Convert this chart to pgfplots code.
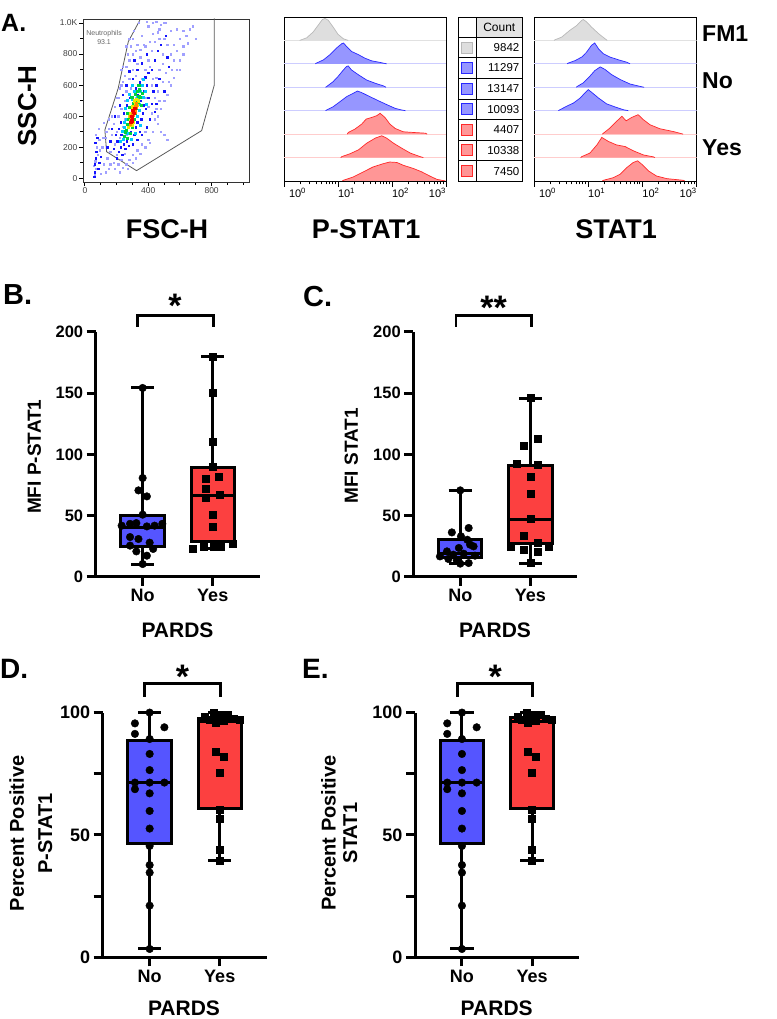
\documentclass[border=0pt]{standalone}
\usepackage{fontspec}
\setmainfont{Liberation Sans}
\usepackage{pgfplots}
\usepackage{pgfplotstable}
\pgfplotsset{compat=1.18}
\newcommand{\fs}[1]{\fontsize{#1}{#1}\selectfont}
\definecolor{bxblue}{RGB}{85,85,255}
\definecolor{bxred}{RGB}{252,64,64}
\definecolor{hblue}{RGB}{150,150,255}
\definecolor{hblueline}{RGB}{40,40,255}
\definecolor{hred}{RGB}{255,150,150}
\definecolor{hredline}{RGB}{255,40,40}
\definecolor{hgrey}{RGB}{222,222,222}
\definecolor{hgreyline}{RGB}{185,185,185}
\definecolor{bblue}{RGB}{205,205,255}
\definecolor{bred}{RGB}{255,205,205}
\definecolor{bgrey}{RGB}{225,225,225}
\definecolor{dlav}{RGB}{160,160,255}
\definecolor{dblue}{RGB}{20,20,255}
\definecolor{dcyan}{RGB}{0,200,255}
\definecolor{dgreen}{RGB}{0,210,60}
\definecolor{dyel}{RGB}{235,235,0}
\definecolor{dorange}{RGB}{255,140,0}
\definecolor{dred}{RGB}{240,0,0}

% ---- P-STAT1 histograms (x = log10 intensity, y = row base + relative height)
\pgfplotstableread{
x y
0.29 6
0.42 6.11
0.54 6.36
0.63 6.64
0.71 6.89
0.76 6.94
0.82 6.86
0.91 6.57
1.00 6.26
1.10 6.07
1.19 6
}\hA
\pgfplotstableread{
x y
0.58 5
0.60 5.03
0.73 5.17
0.85 5.39
0.97 5.67
1.07 5.86
1.10 5.89
1.16 5.74
1.25 5.53
1.38 5.39
1.50 5.24
1.62 5.13
1.78 5.06
1.90 5
}\hB
\pgfplotstableread{
x y
0.77 4
0.79 4.03
0.91 4.24
1.00 4.46
1.10 4.74
1.16 4.89
1.19 4.91
1.25 4.74
1.38 4.53
1.53 4.31
1.69 4.17
1.84 4.06
1.89 4
}\hC
\pgfplotstableread{
x y
0.77 3
0.79 3.03
0.91 3.17
1.04 3.39
1.16 3.6
1.28 3.74
1.36 3.84
1.44 3.77
1.59 3.6
1.78 3.39
1.96 3.2
2.06 3.1
2.18 3.03
2.25 3
}\hD
\pgfplotstableread{
x y
1.17 2
1.19 2.07
1.31 2.21
1.44 2.43
1.52 2.64
1.62 2.71
1.72 2.79
1.78 2.89
1.87 2.71
1.96 2.43
2.06 2.24
2.21 2.1
2.40 2.07
2.62 2.04
2.65 2
}\hE
\pgfplotstableread{
x y
1.05 1
1.07 1.04
1.22 1.16
1.38 1.33
1.53 1.61
1.69 1.83
1.81 1.93
1.90 1.83
2.03 1.61
2.18 1.4
2.34 1.19
2.52 1.04
2.58 1
}\hF
\pgfplotstableread{
x y
1.08 0
1.10 0.03
1.28 0.17
1.47 0.39
1.65 0.6
1.84 0.74
1.96 0.81
2.09 0.79
2.21 0.67
2.40 0.53
2.55 0.39
2.71 0.2
2.83 0.07
2.99 0
}\hG
% ---- STAT1 histograms
\pgfplotstableread{
x y
0.37 6
0.39 6.03
0.51 6.14
0.66 6.43
0.79 6.64
0.88 6.86
0.91 6.89
0.97 6.79
1.06 6.57
1.19 6.29
1.31 6.07
1.35 6
}\sA
\pgfplotstableread{
x y
0.61 5
0.63 5.03
0.76 5.14
0.88 5.29
0.97 5.5
1.06 5.79
1.12 5.89
1.19 5.64
1.28 5.43
1.40 5.29
1.56 5.17
1.71 5.07
1.77 5
}\sB
\pgfplotstableread{
x y
0.78 4
0.80 4.04
0.91 4.19
1.03 4.47
1.12 4.71
1.22 4.87
1.31 4.76
1.43 4.54
1.59 4.33
1.77 4.14
1.95 4.04
2.03 4
}\sC
\pgfplotstableread{
x y
0.45 3
0.47 3.03
0.60 3.19
0.73 3.33
0.85 3.54
0.94 3.76
1.00 3.9
1.06 3.79
1.19 3.54
1.34 3.29
1.52 3.14
1.65 3.04
1.74 3
}\sD
\pgfplotstableread{
x y
1.26 2
1.28 2.04
1.40 2.26
1.52 2.54
1.62 2.76
1.70 2.57
1.80 2.71
1.92 2.83
2.02 2.61
2.14 2.4
2.32 2.23
2.57 2.11
2.75 2
}\sE
\pgfplotstableread{
x y
0.86 1
0.88 1.04
1.03 1.19
1.16 1.54
1.25 1.86
1.37 1.69
1.52 1.54
1.68 1.47
1.83 1.29
2.02 1.11
2.20 1.03
2.23 1
}\sF
\pgfplotstableread{
x y
1.26 0
1.28 0.03
1.46 0.14
1.59 0.29
1.71 0.57
1.83 0.79
1.91 0.86
1.99 0.71
2.11 0.43
2.26 0.21
2.45 0.1
2.75 0.03
2.78 0
}\sG

\pgfplotsset{
  histax/.style={scale only axis, width=162pt, height=164pt,
    xmin=0, xmax=3, ymin=0, ymax=7,
    xtick={0,1,2,3},
    xticklabels={\makebox[0pt][l]{\hspace{5pt}10\textsuperscript{0}},\makebox[0pt][l]{10\textsuperscript{1}},\makebox[0pt][l]{10\textsuperscript{2}},\makebox[0pt][r]{10\textsuperscript{3}}},
    minor xtick={0.301,0.477,0.602,0.699,0.778,0.845,0.903,0.954,1.301,1.477,1.602,1.699,1.778,1.845,1.903,1.954,2.301,2.477,2.602,2.699,2.778,2.845,2.903,2.954},
    ytick=\empty, xtick pos=bottom, tick align=outside,
    major tick length=6pt, minor tick length=3.5pt,
    every tick/.style={black, line width=1pt},
    xticklabel style={font=\fs{11}, inner sep=1pt},
    axis line style={line width=0.8pt}},
  hfill/.style={fill=#1, draw=none},
  boxax/.style={scale only axis, width=164pt, xmin=0.33, xmax=2.67, ymin=0,
    axis line style={draw=none},
    xtick pos=bottom, ytick pos=left,
    xtick={1,2}, xticklabels={No,Yes},
    tick align=outside, major tick length=9pt,
    every tick/.style={black, line width=3pt},
    xticklabel style={font=\fs{18}\bfseries},
    /pgf/number format/assume math mode=true,
    clip=false},
  bl/.style={black, line width=3pt, line cap=butt},
  bxf/.style={fill=#1, draw=black, line width=3pt, line join=miter},
  dots/.style={only marks, mark=*, mark size=3.8pt, black},
  sqs/.style={only marks, mark=square*, mark size=3.5pt, black},
}

\begin{document}
\begin{tikzpicture}
\path[use as bounding box] (0pt,0pt) rectangle (776pt,1019pt);

% ================= A: scatter =================
\begin{axis}[at={(83pt,837pt)}, anchor=south west, scale only axis,
  width=166pt, height=163pt, xmin=-12, xmax=1036, ymin=-24, ymax=1026,
  xtick={0,400,800}, minor xtick={100,200,300,500,600,700,900,1000},
  ytick={0,200,400,600,800,1000}, minor ytick={100,300,500,700,900},
  yticklabels={0,200,400,600,800,1.0K},
  tick align=outside, xtick pos=bottom, ytick pos=left,
  major tick length=4pt, minor tick length=3pt,
  every tick/.style={black, line width=0.9pt},
  ticklabel style={font=\fs{8.5}, text=black!75, inner sep=1.5pt},
  axis line style={line width=0.9pt, black!80},
  /pgf/number format/assume math mode=true]
\addplot[only marks, mark=square*, mark size=0.65pt, color=dlav] coordinates {
(60,20)(70,60)(65,110)(80,150)(75,200)(90,250)(70,280)(85,320)(100,30)(55,80)
(120,90)(140,130)(160,170)(150,60)(180,100)(200,150)(210,90)(230,120)(250,160)(190,220)
(170,280)(200,300)(220,260)(240,330)(260,280)(180,350)(210,400)(230,450)(250,500)(200,520)
(220,580)(240,620)(260,560)(280,640)(300,700)(320,660)(340,600)(360,640)(380,700)(400,760)
(420,820)(440,880)(460,940)(480,990)(500,900)(520,860)(540,800)(560,760)(580,820)(600,900)
(620,950)(500,1000)(450,1010)(400,980)(360,920)(330,860)(300,800)(280,760)(260,720)(350,780)
(380,520)(400,460)(420,420)(440,380)(460,350)(480,300)(500,280)(520,250)(380,300)(400,250)
(360,220)(330,180)(300,150)(280,120)(260,90)(240,70)(420,600)(450,650)(470,700)(490,740)
(510,680)(530,620)(550,700)(440,520)(460,560)(340,480)(320,520)(290,580)(270,420)(250,380)
(110,200)(130,260)(150,320)(120,360)(95,180)(680,980)(650,870)(620,800)(700,900)(580,960)
(130,40)(160,90)(190,60)(220,40)(270,60)(300,100)(320,130)(350,160)(380,200)(410,230)
(430,300)(460,400)(480,450)(500,500)(520,540)(540,600)(560,650)(580,700)(600,760)(620,850)
(640,920)(660,960)(540,950)(510,1000)(470,960)(430,930)(410,880)(380,850)(350,830)(320,820)
(290,850)(270,800)(250,660)(230,600)(210,520)(190,460)(170,400)(150,380)(135,300)(115,260)
(240,720)(280,900)(310,950)(340,1000)(390,1010)(430,1000)(470,900)(490,800)(560,860)(600,700)
(490,620)(470,500)(450,450)(430,640)(410,720)(370,860)(330,740)(300,900)(260,850)(230,700)};
\addplot[only marks, mark=square*, mark size=0.7pt, color=dblue] coordinates {
(60,40)(62,90)(68,130)(72,170)(66,230)(78,260)(58,10)(90,100)(100,140)(85,60)
(200,130)(215,170)(225,200)(235,150)(245,220)(255,190)(265,240)(275,210)(205,240)(230,280)
(250,300)(270,330)(290,300)(310,280)(320,330)(330,360)(345,300)(355,380)(365,420)(370,470)
(350,500)(335,540)(320,580)(345,620)(370,560)(390,600)(400,520)(385,450)(410,380)(420,480)
(300,480)(285,520)(265,470)(245,420)(225,360)(215,320)(195,280)(260,600)(300,640)(330,700)
(360,740)(390,800)(420,700)(440,760)(460,820)(480,860)(510,920)(520,780)(470,640)(450,600)
(430,560)(400,680)(380,650)(310,760)(280,690)(240,540)(220,470)(190,400)(170,320)(160,240)
(140,200)(180,190)(300,220)(330,250)(360,280)(390,330)(440,430)(450,480)(500,560)(530,720)};
\addplot[only marks, mark=square*, mark size=1.0pt, color=dcyan] coordinates {
(240,250)(250,330)(260,380)(270,290)(280,420)(290,460)(300,510)(310,430)(320,470)(330,520)
(340,440)(350,560)(360,600)(310,560)(280,540)(255,450)(235,300)(225,240)(370,520)(380,560)
(330,400)(345,480)(365,640)(300,600)(270,500)(245,360)(290,250)(320,290)(350,340)(390,480)};
\addplot[only marks, mark=square*, mark size=1.1pt, color=dgreen] coordinates {
(250,270)(260,310)(265,350)(275,380)(285,340)(290,400)(300,440)(305,480)(315,500)(325,450)
(335,490)(340,530)(330,560)(320,420)(295,520)(280,460)(270,420)(255,300)(350,520)(345,570)
(355,470)(310,380)(300,330)(285,290)(265,260)(340,600)(320,540)(360,550)(290,360)(310,470)};
\addplot[only marks, mark=square*, mark size=1.2pt, color=dyel] coordinates {
(275,330)(285,370)(290,420)(300,400)(310,440)(315,460)(320,480)(325,510)(330,470)(305,360)
(295,340)(280,400)(335,500)(310,500)(300,460)};
\addplot[only marks, mark=square*, mark size=1.2pt, color=dorange] coordinates {
(285,350)(295,380)(300,420)(305,410)(310,450)(315,430)(320,460)(290,400)(300,370)(325,480)};
\addplot[only marks, mark=square*, mark size=1.2pt, color=dred] coordinates {
(290,360)(295,400)(300,390)(305,430)(310,420)(300,440)(315,450)(295,370)};
\addplot[draw=black!65, line width=0.8pt] coordinates {
(347,1019)(274,880)(210,579)(126,311)(137,171)(326,49)(737,307)(817,601)(817,1030)};
\node[font=\fs{7}, text=black!60] at (axis cs:121,931) {Neutrophils};
\node[font=\fs{7}, text=black!60] at (axis cs:121,874) {93.1};
\end{axis}

% ================= A: P-STAT1 histograms =================
\begin{axis}[at={(284pt,838pt)}, anchor=south west, histax]
\draw[bgrey, line width=0.8pt] (axis cs:0,6) -- (axis cs:3,6);
\draw[bblue, line width=0.8pt] (axis cs:0,5) -- (axis cs:3,5);
\draw[bblue, line width=0.8pt] (axis cs:0,4) -- (axis cs:3,4);
\draw[bblue, line width=0.8pt] (axis cs:0,3) -- (axis cs:3,3);
\draw[bred, line width=0.8pt] (axis cs:0,2) -- (axis cs:3,2);
\draw[bred, line width=0.8pt] (axis cs:0,1) -- (axis cs:3,1);
\addplot[hfill=hgrey] table {\hA} -- cycle;
\addplot[hgreyline, line width=0.7pt] table {\hA};
\addplot[hfill=hblue] table {\hB} -- cycle;
\addplot[hblueline, line width=0.7pt] table {\hB};
\addplot[hfill=hblue] table {\hC} -- cycle;
\addplot[hblueline, line width=0.7pt] table {\hC};
\addplot[hfill=hblue] table {\hD} -- cycle;
\addplot[hblueline, line width=0.7pt] table {\hD};
\addplot[hfill=hred] table {\hE} -- cycle;
\addplot[hredline, line width=0.7pt] table {\hE};
\addplot[hfill=hred] table {\hF} -- cycle;
\addplot[hredline, line width=0.7pt] table {\hF};
\addplot[hfill=hred] table {\hG} -- cycle;
\addplot[hredline, line width=0.7pt] table {\hG};
\end{axis}

% ================= A: STAT1 histograms =================
\begin{axis}[at={(534pt,838pt)}, anchor=south west, histax, width=162.7pt]
\draw[bgrey, line width=0.8pt] (axis cs:0,6) -- (axis cs:3,6);
\draw[bblue, line width=0.8pt] (axis cs:0,5) -- (axis cs:3,5);
\draw[bblue, line width=0.8pt] (axis cs:0,4) -- (axis cs:3,4);
\draw[bblue, line width=0.8pt] (axis cs:0,3) -- (axis cs:3,3);
\draw[bred, line width=0.8pt] (axis cs:0,2) -- (axis cs:3,2);
\draw[bred, line width=0.8pt] (axis cs:0,1) -- (axis cs:3,1);
\addplot[hfill=hgrey] table {\sA} -- cycle;
\addplot[hgreyline, line width=0.7pt] table {\sA};
\addplot[hfill=hblue] table {\sB} -- cycle;
\addplot[hblueline, line width=0.7pt] table {\sB};
\addplot[hfill=hblue] table {\sC} -- cycle;
\addplot[hblueline, line width=0.7pt] table {\sC};
\addplot[hfill=hblue] table {\sD} -- cycle;
\addplot[hblueline, line width=0.7pt] table {\sD};
\addplot[hfill=hred] table {\sE} -- cycle;
\addplot[hredline, line width=0.7pt] table {\sE};
\addplot[hfill=hred] table {\sF} -- cycle;
\addplot[hredline, line width=0.7pt] table {\sF};
\addplot[hfill=hred] table {\sG} -- cycle;
\addplot[hredline, line width=0.7pt] table {\sG};
\end{axis}

% ================= B =================
\begin{axis}[at={(95.7pt,442pt)}, anchor=south west, boxax, height=245pt, ymax=200,
  ytick={0,50,100,150,200}, yticklabel style={font=\fs{16.5}\bfseries}]
\addplot[bl] coordinates {(1,10.6)(1,154.3)};
\addplot[bl] coordinates {(0.835,10.6)(1.165,10.6)};
\addplot[bl] coordinates {(0.835,154.3)(1.165,154.3)};
\addplot[bxf=bxblue] coordinates {(0.69,25)(1.31,25)(1.31,50)(0.69,50)} -- cycle;
\addplot[bl] coordinates {(0.69,40.5)(1.31,40.5)};
\addplot[bl] coordinates {(2,23.1)(2,180)};
\addplot[bl] coordinates {(1.835,23.1)(2.165,23.1)};
\addplot[bl] coordinates {(1.835,180)(2.165,180)};
\addplot[bxf=bxred] coordinates {(1.69,29)(2.31,29)(2.31,89)(1.69,89)} -- cycle;
\addplot[bl] coordinates {(1.69,66.6)(2.31,66.6)};
\addplot[dots] coordinates {(1.00,154.3)(1.00,80.8)(0.94,70.7)(1.06,65.8)(1.00,50.9)(0.70,41.9)(0.82,43.4)(0.91,44)(1.06,41.3)(1.17,41.9)(1.28,43.4)(0.82,32.6)(0.94,31)(1.10,28)(0.82,25.6)(1.15,22.9)(0.91,20.9)(1.06,17.4)(1.00,10.6)};
\addplot[sqs] coordinates {(2.00,180)(2.00,150.7)(2.00,110.7)(2.00,90.3)(1.90,80)(2.09,82)(1.90,71.8)(2.10,67.3)(1.90,64.7)(2.00,50.9)(2.00,41.3)(1.72,23.1)(1.87,25)(2.01,25)(2.11,25)(2.28,27.2)};
\draw[line width=2.6pt, line join=miter] (axis cs:0.93,204.3) -- (axis cs:0.93,213.3) -- (axis cs:2.01,213.3) -- (axis cs:2.01,204.3);
\node[anchor=north, inner sep=0pt, font=\fs{34}\bfseries] at (axis cs:1.46,231) {*};
\end{axis}

% ================= C =================
\begin{axis}[at={(413.3pt,442pt)}, anchor=south west, boxax, height=245pt, ymax=200,
  ytick={0,50,100,150,200}, yticklabel style={font=\fs{16.5}\bfseries}]
\addplot[bl] coordinates {(1,10.9)(1,70.7)};
\addplot[bl] coordinates {(0.835,10.9)(1.165,10.9)};
\addplot[bl] coordinates {(0.835,70.7)(1.165,70.7)};
\addplot[bxf=bxblue] coordinates {(0.69,16.3)(1.31,16.3)(1.31,30.4)(0.69,30.4)} -- cycle;
\addplot[bl] coordinates {(0.69,19)(1.31,19)};
\addplot[bl] coordinates {(2,11.4)(2,146)};
\addplot[bl] coordinates {(1.835,11.4)(2.165,11.4)};
\addplot[bl] coordinates {(1.835,146)(2.165,146)};
\addplot[bxf=bxred] coordinates {(1.69,27.7)(2.31,27.7)(2.31,90.9)(1.69,90.9)} -- cycle;
\addplot[bl] coordinates {(1.69,47.3)(2.31,47.3)};
\addplot[dots] coordinates {(1.00,70.7)(0.88,36.4)(1.12,40)(1.01,33.2)(1.10,30.4)(1.14,26.4)(0.81,20.9)(0.98,23.7)(1.19,25)(0.90,18.2)(1.05,19)(0.71,16.8)(0.83,14.7)(0.95,13.6)(1.12,11.4)(1.00,10.9)(1.21,17.4)};
\addplot[sqs] coordinates {(2.00,146)(2.10,112.6)(1.91,107)(1.81,92.5)(2.10,91.6)(2.00,81.6)(2.00,68)(2.00,47.3)(1.91,33.7)(1.72,25)(2.10,28.2)(2.26,25)(1.91,22.3)(2.10,20.9)(2.00,11.4)};
\draw[line width=2.6pt, line join=miter] (axis cs:0.94,204.3) -- (axis cs:0.94,213.3) -- (axis cs:2.02,213.3) -- (axis cs:2.02,204.3);
\node[anchor=north, inner sep=0pt, font=\fs{34}\bfseries] at (axis cs:1.475,229.4) {**};
\end{axis}

% ================= D =================
\begin{axis}[at={(102.7pt,61.7pt)}, anchor=south west, boxax, height=244.7pt, ymax=100,
  ytick={0,25,50,75,100}, yticklabels={0,,50,,100}, yticklabel style={font=\fs{18}\bfseries}]
\addplot[bl] coordinates {(1,3.4)(1,100)};
\addplot[bl] coordinates {(0.835,3.4)(1.165,3.4)};
\addplot[bl] coordinates {(0.835,100)(1.165,100)};
\addplot[bxf=bxblue] coordinates {(0.69,46.6)(1.31,46.6)(1.31,88.8)(0.69,88.8)} -- cycle;
\addplot[bl] coordinates {(0.69,71.4)(1.31,71.4)};
\addplot[bl] coordinates {(2,39.5)(2,100)};
\addplot[bl] coordinates {(1.835,39.5)(2.165,39.5)};
\addplot[bl] coordinates {(1.835,100)(2.165,100)};
\addplot[bxf=bxred] coordinates {(1.69,60.9)(2.31,60.9)(2.31,97.6)(1.69,97.6)} -- cycle;
\addplot[bl] coordinates {(1.69,96.3)(2.31,96.3)};
\addplot[dots] coordinates {(1.00,100)(0.79,95.6)(0.79,91.3)(1.21,94.0)(1.00,89.2)(1.00,83.1)(1.00,76.5)(0.79,71.4)(1.00,71.4)(1.21,71.4)(0.79,68.7)(1.00,67.0)(1.00,59.8)(1.00,52.6)(1.00,45.5)(1.00,37.7)(1.00,34.6)(1.00,21.1)(1.00,3.4)};
\addplot[sqs] coordinates {(1.92,100)(1.79,98.5)(2.01,97.8)(2.20,97.5)(1.85,97)(2.28,97.2)(2.05,96.5)(1.94,96)(2.12,99)(2.00,98)(1.94,84)(2.05,82)(2.00,75.4)(2.00,60.2)(2.00,56.8)(2.00,44.1)(2.00,39.5)};
\draw[line width=2.6pt, line join=miter] (axis cs:0.93,106.5) -- (axis cs:0.93,112) -- (axis cs:2.01,112) -- (axis cs:2.01,106.5);
\node[anchor=north, inner sep=0pt, font=\fs{34}\bfseries] at (axis cs:1.47,119.5) {*};
\end{axis}

% ================= E =================
\begin{axis}[at={(415pt,61.7pt)}, anchor=south west, boxax, height=244.7pt, ymax=100,
  ytick={0,25,50,75,100}, yticklabels={0,,50,,100}, yticklabel style={font=\fs{18}\bfseries}]
\addplot[bl] coordinates {(1,3.4)(1,100)};
\addplot[bl] coordinates {(0.835,3.4)(1.165,3.4)};
\addplot[bl] coordinates {(0.835,100)(1.165,100)};
\addplot[bxf=bxblue] coordinates {(0.69,46.6)(1.31,46.6)(1.31,88.8)(0.69,88.8)} -- cycle;
\addplot[bl] coordinates {(0.69,71.4)(1.31,71.4)};
\addplot[bl] coordinates {(2,39.5)(2,100)};
\addplot[bl] coordinates {(1.835,39.5)(2.165,39.5)};
\addplot[bl] coordinates {(1.835,100)(2.165,100)};
\addplot[bxf=bxred] coordinates {(1.69,60.9)(2.31,60.9)(2.31,98)(1.69,98)} -- cycle;
\addplot[bl] coordinates {(1.69,96.3)(2.31,96.3)};
\addplot[dots] coordinates {(1.00,100)(0.79,95.6)(0.79,91.3)(1.21,94.0)(1.00,89.2)(1.00,83.1)(1.00,76.5)(0.79,71.4)(1.00,71.4)(1.21,71.4)(0.79,68.7)(1.00,67.0)(1.00,59.8)(1.00,52.6)(1.00,45.5)(1.00,37.7)(1.00,34.6)(1.00,21.1)(1.00,3.4)};
\addplot[sqs] coordinates {(1.92,100)(1.79,98.5)(2.01,97.8)(2.20,97.5)(1.85,97)(2.28,97.2)(2.05,96.5)(1.94,96)(2.12,99)(2.00,98)(1.94,84)(2.05,82)(2.00,75.4)(2.00,60.2)(2.00,56.8)(2.00,44.1)(2.00,39.5)};
\draw[line width=2.6pt, line join=miter] (axis cs:0.94,106.5) -- (axis cs:0.94,112) -- (axis cs:2.01,112) -- (axis cs:2.01,106.5);
\node[anchor=north, inner sep=0pt, font=\fs{34}\bfseries] at (axis cs:1.475,119.5) {*};
\end{axis}

\begin{scope}[x=1pt,y=1pt]
% ================= A: count table =================
\fill[gray!22] (476.7,981.7) rectangle (522,1001.7);
\draw[line width=0.8pt] (458,837.3) rectangle (522,1001.7);
\draw[line width=0.8pt] (476.7,837.3) -- (476.7,1001.7);
\foreach \yy in {981.7,961.3,940.7,920,899.7,879,858.3}{\draw[line width=0.8pt] (458,\yy) -- (522,\yy);}
\node[font=\fs{12}] at (499.3,991.7) {Count};
\foreach \yy/\cnt/\fc/\dc in {971.5/9842/hgrey/hgreyline, 951/11297/hblue/hblueline, 930.35/13147/hblue/hblueline, 909.85/10093/hblue/hblueline, 889.35/4407/hred/hredline, 868.65/10338/hred/hredline, 847.8/7450/hred/hredline}{
  \filldraw[fill=\fc, draw=\dc, line width=0.8pt] (461.8,\yy-5.5) rectangle (472.8,\yy+5.5);
  \node[font=\fs{11.5}, anchor=east, inner sep=0pt] at (519.5,\yy) {\cnt};
}
% ================= A: labels =================
\node[font=\fs{25}\bfseries, anchor=base west, inner sep=0pt] at (1,987.3) {A.};
\node[font=\fs{26}\bfseries, rotate=90, anchor=base, inner sep=0pt] at (36,913) {SSC-H};
\node[font=\fs{27}\bfseries, anchor=base, inner sep=0pt] at (167,780.7) {FSC-H};
\node[font=\fs{27}\bfseries, anchor=base, inner sep=0pt] at (366,780.7) {P-STAT1};
\node[font=\fs{27}\bfseries, anchor=base, inner sep=0pt] at (616,780.7) {STAT1};
\node[font=\fs{23}\bfseries, anchor=base west, inner sep=0pt] at (702,977.3) {FM1};
\node[font=\fs{23}\bfseries, anchor=base west, inner sep=0pt] at (702,930.5) {No};
\node[font=\fs{23}\bfseries, anchor=base west, inner sep=0pt] at (702,863.2) {Yes};
% ================= B-E labels =================
\node[font=\fs{29}\bfseries, anchor=base west, inner sep=0pt] at (3,714) {B.};
\node[font=\fs{29}\bfseries, anchor=base west, inner sep=0pt] at (303,712.3) {C.};
\node[font=\fs{28}\bfseries, anchor=base west, inner sep=0pt] at (0,340.7) {D.};
\node[font=\fs{28}\bfseries, anchor=base west, inner sep=0pt] at (302,340.7) {E.};
\node[font=\fs{19}\bfseries, rotate=90, anchor=base, inner sep=0pt] at (40.8,562.3) {MFI P-STAT1};
\node[font=\fs{19}\bfseries, rotate=90, anchor=base, inner sep=0pt] at (357.8,563.2) {MFI STAT1};
\node[font=\fs{20}\bfseries, rotate=90, anchor=base, inner sep=0pt] at (23.9,185.5) {Percent Positive};
\node[font=\fs{20}\bfseries, rotate=90, anchor=base, inner sep=0pt] at (52.2,185.5) {P-STAT1};
\node[font=\fs{20}\bfseries, rotate=90, anchor=base, inner sep=0pt] at (335.5,186) {Percent Positive};
\node[font=\fs{20}\bfseries, rotate=90, anchor=base, inner sep=0pt] at (357.2,186) {STAT1};
\node[font=\fs{21}\bfseries, anchor=base, inner sep=0pt] at (177.5,381) {PARDS};
\node[font=\fs{21}\bfseries, anchor=base, inner sep=0pt] at (495,381) {PARDS};
\node[font=\fs{21}\bfseries, anchor=base, inner sep=0pt] at (184,3) {PARDS};
\node[font=\fs{21}\bfseries, anchor=base, inner sep=0pt] at (496.7,3) {PARDS};
% ================= axis lines and ticks of B-E, as filled bars =================
\fill[black] (94.2,440.5) rectangle (97.2,687);
\fill[black] (94.2,440.5) rectangle (259.7,443.5);
\foreach \tk in {442,503.25,564.5,625.75,687}{\fill[black] (86.7,\tk-1.5) rectangle (95.7,\tk+1.5);}
\fill[black] (141.16,433) rectangle (144.16,442);
\fill[black] (211.25,433) rectangle (214.25,442);
\fill[black] (411.8,440.5) rectangle (414.8,687);
\fill[black] (411.8,440.5) rectangle (577.3,443.5);
\foreach \tk in {442,503.25,564.5,625.75,687}{\fill[black] (404.3,\tk-1.5) rectangle (413.3,\tk+1.5);}
\fill[black] (458.76,433) rectangle (461.76,442);
\fill[black] (528.85,433) rectangle (531.85,442);
\fill[black] (101.2,60.2) rectangle (104.2,306.4);
\fill[black] (101.2,60.2) rectangle (266.7,63.2);
\foreach \tk in {61.7,122.875,184.05,245.225,306.4}{\fill[black] (93.7,\tk-1.5) rectangle (102.7,\tk+1.5);}
\fill[black] (148.16,52.7) rectangle (151.16,61.7);
\fill[black] (218.25,52.7) rectangle (221.25,61.7);
\fill[black] (413.5,60.2) rectangle (416.5,306.4);
\fill[black] (413.5,60.2) rectangle (579,63.2);
\foreach \tk in {61.7,122.875,184.05,245.225,306.4}{\fill[black] (406,\tk-1.5) rectangle (415,\tk+1.5);}
\fill[black] (460.46,52.7) rectangle (463.46,61.7);
\fill[black] (530.55,52.7) rectangle (533.55,61.7);
\end{scope}
\end{tikzpicture}
\end{document}
